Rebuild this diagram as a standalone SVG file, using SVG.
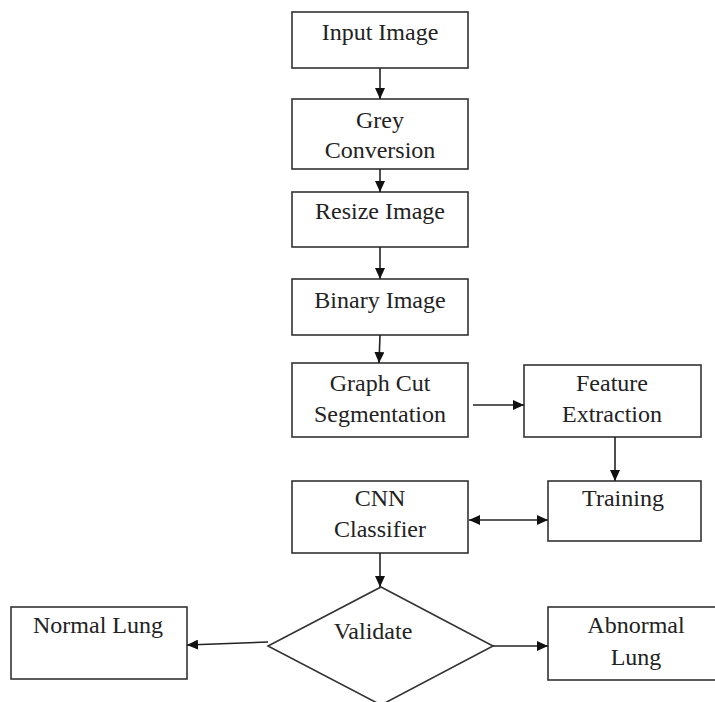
<svg xmlns="http://www.w3.org/2000/svg" width="715" height="702" viewBox="0 0 715 702">
<style>
.box{fill:#fff;stroke:#333;stroke-width:1.6}
.t{font-family:"Liberation Serif","Times New Roman",serif;font-size:24px;fill:#222;text-anchor:middle}
.c{fill:none;stroke:#222;stroke-width:1.6}
</style>
<defs>
<marker id="ah" markerUnits="userSpaceOnUse" markerWidth="12" markerHeight="10" refX="11" refY="5" orient="auto-start-reverse">
<path d="M0,0 L11,5 L0,10 z" fill="#111"/>
</marker>
</defs>
<rect width="715" height="702" fill="#fff"/>
<g id="input"><rect class="box" x="292" y="12" width="176" height="56"/><text class="t" x="380" y="40">Input Image</text></g>
<g id="grey"><rect class="box" x="292" y="99" width="176" height="70"/><text class="t" x="380" y="128">Grey</text><text class="t" x="380" y="158">Conversion</text></g>
<g id="resize"><rect class="box" x="292" y="192" width="176" height="55"/><text class="t" x="380" y="219">Resize Image</text></g>
<g id="binary"><rect class="box" x="292" y="279" width="176" height="56"/><text class="t" x="380" y="308">Binary Image</text></g>
<g id="graphcut"><rect class="box" x="292" y="363" width="176" height="74"/><text class="t" x="380" y="391">Graph Cut</text><text class="t" x="380" y="422">Segmentation</text></g>
<g id="feature"><rect class="box" x="524" y="365" width="177" height="72"/><text class="t" x="612" y="391">Feature</text><text class="t" x="612" y="422">Extraction</text></g>
<g id="training"><rect class="box" x="548" y="481" width="153" height="60"/><text class="t" x="623" y="506">Training</text></g>
<g id="cnn"><rect class="box" x="292" y="481" width="176" height="72"/><text class="t" x="380" y="506">CNN</text><text class="t" x="380" y="537">Classifier</text></g>
<g id="validate"><polygon class="box" points="381,587 493,646 381,705 268,646"/><text class="t" x="373" y="639">Validate</text></g>
<g id="normal"><rect class="box" x="11" y="607" width="176" height="72"/><text class="t" x="98" y="633">Normal Lung</text></g>
<g id="abnormal"><rect class="box" x="548" y="607" width="170" height="73"/><text class="t" x="636" y="633">Abnormal</text><text class="t" x="636" y="665">Lung</text></g>
<g id="connectors">
<line class="c" x1="380" y1="68" x2="380" y2="99" marker-end="url(#ah)"/>
<line class="c" x1="380" y1="169" x2="380" y2="192" marker-end="url(#ah)"/>
<line class="c" x1="380" y1="247" x2="380" y2="279" marker-end="url(#ah)"/>
<line class="c" x1="380" y1="335" x2="379" y2="363" marker-end="url(#ah)"/>
<line class="c" x1="473" y1="405" x2="524" y2="405" marker-end="url(#ah)"/>
<line class="c" x1="615" y1="437" x2="615" y2="481" marker-end="url(#ah)"/>
<line class="c" x1="469" y1="520" x2="548" y2="520" marker-start="url(#ah)" marker-end="url(#ah)"/>
<line class="c" x1="380" y1="553" x2="380" y2="587" marker-end="url(#ah)"/>
<line class="c" x1="268" y1="642" x2="187" y2="645" marker-end="url(#ah)"/>
<line class="c" x1="493" y1="646" x2="548" y2="646" marker-end="url(#ah)"/>
</g>
</svg>
